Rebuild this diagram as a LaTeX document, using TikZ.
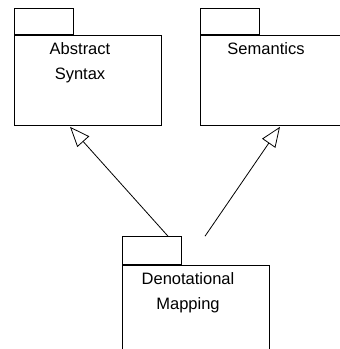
\documentclass[tikz,border=0pt]{standalone}
\usepackage{fontspec}
\setmainfont{Liberation Sans}
\usetikzlibrary{positioning,arrows.meta,calc}

\begin{document}
\begin{tikzpicture}[
  x=1pt, y=-1pt,
  font=\fontsize{16.5}{24.7}\selectfont,
  pkg/.style={draw, line width=0.8pt, minimum width=147pt, minimum height=90pt, inner sep=0pt, anchor=north west},
  tab/.style={draw, line width=0.8pt, minimum width=59pt, minimum height=26pt, inner sep=0pt, anchor=south west},
  title/.style={align=center, inner sep=0pt, anchor=north},
  gen/.style={-{Triangle[open, length=20pt, width=16pt]}, line width=0.8pt}
]
\useasboundingbox (0,0) rectangle (340,349);
\clip (0,0) rectangle (340,349);

% packages
\node[pkg] (synbox) at (14,35) {};
\node[tab] (syntab) at (synbox.north west) {};
\node[title] (syntitle) at ($(synbox.north west)+(66,7.5)$) {Abstract\\Syntax};

\node[pkg] (sembox) at (200,35) {};
\node[tab] (semtab) at (sembox.north west) {};
\node[title] (semtitle) at ($(sembox.north west)+(66,7.5)$) {Semantics};

\node[pkg] (mapbox) at (122,265) {};
\node[tab, minimum height=28pt] (maptab) at (mapbox.north west) {};
\node[title] (maptitle) at ($(mapbox.north west)+(66,7.5)$) {Denotational\\Mapping};

% generalisation arrows
\coordinate (mapleft) at ($(maptab.north west)+(46,0)$);
\coordinate (mapright) at ($(maptab.north west)+(83,0)$);
\coordinate (synfoot) at ($(synbox.south west)+(56,1)$);
\coordinate (semfoot) at ($(sembox.south west)+(80,1)$);
\draw[gen] (mapleft) -- (synfoot);
\draw[gen] (mapright) -- (semfoot);

\end{tikzpicture}
\end{document}
